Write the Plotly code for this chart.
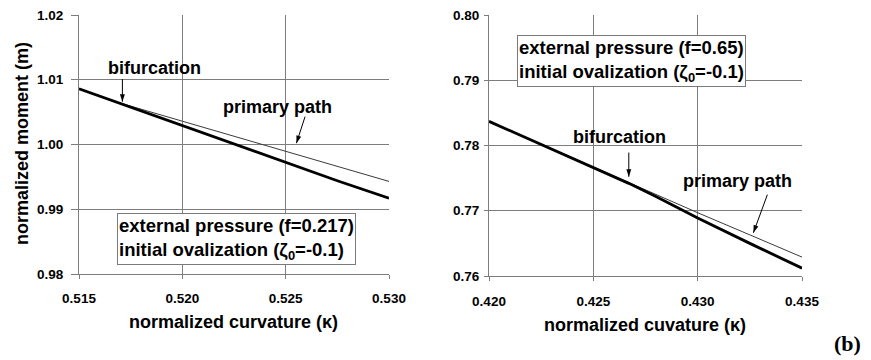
import plotly.graph_objects as go

# ---- data ----
# left panel: f = 0.217
left_kappa_post = [0.515, 0.5171, 0.520, 0.5225, 0.525, 0.5275, 0.530]
left_m_post = [1.0086, 1.0062, 1.0030, 1.0001, 0.9972, 0.9944, 0.9917]
left_kappa_primary = [0.515, 0.5171, 0.520, 0.5225, 0.525, 0.5275, 0.530]
left_m_primary = [1.0086, 1.0063, 1.0036, 1.0013, 0.9990, 0.9966, 0.9943]

# right panel: f = 0.65
right_kappa_post = [0.420, 0.4225, 0.425, 0.4267, 0.428, 0.430, 0.4325, 0.435]
right_m_post = [0.7837, 0.7802, 0.7766, 0.7742, 0.7722, 0.7689, 0.7650, 0.7612]
right_kappa_primary = [0.420, 0.4225, 0.425, 0.4267, 0.430, 0.4325, 0.435]
right_m_primary = [0.7837, 0.7802, 0.7766, 0.7742, 0.7697, 0.7663, 0.7629]

# arrow pointers (tail -> tip) in data coordinates, with head angle (deg, clockwise from up)
left_bif_arrow_x = [0.5171, 0.5171]
left_bif_arrow_y = [1.0101, 1.0066]
left_bif_angle = 180
left_prim_arrow_x = [0.52594, 0.52552]
left_prim_arrow_y = [1.00431, 1.00020]
left_prim_angle = 198
right_bif_arrow_x = [0.4267, 0.4267]
right_bif_arrow_y = [0.77892, 0.77520]
right_bif_angle = 180
right_prim_arrow_x = [0.43334, 0.43267]
right_prim_arrow_y = [0.77246, 0.76662]
right_prim_angle = 200

left_xticks = [0.515, 0.520, 0.525, 0.530]
left_yticks = [0.98, 0.99, 1.00, 1.01, 1.02]
right_xticks = [0.420, 0.425, 0.430, 0.435]
right_yticks = [0.76, 0.77, 0.78, 0.79, 0.80]

W, H = 871, 360
FONT = "Liberation Sans, Arial, sans-serif"
GRID = "#7d7d7d"
FRAME = "#c8c8c8"

fig = go.Figure()

def add_lines(xp, yp, xh, yh, xa, ya):
    fig.add_trace(go.Scatter(x=xp, y=yp, mode="lines", xaxis=xa, yaxis=ya,
                             line=dict(color="#3a3a3a", width=1), showlegend=False))
    fig.add_trace(go.Scatter(x=xh, y=yh, mode="lines", xaxis=xa, yaxis=ya,
                             line=dict(color="black", width=2.8), showlegend=False))

add_lines(left_kappa_primary, left_m_primary, left_kappa_post, left_m_post, "x", "y")
add_lines(right_kappa_primary, right_m_primary, right_kappa_post, right_m_post, "x2", "y2")

def add_arrow(xs, ys, angle, xa, ya):
    fig.add_trace(go.Scatter(x=xs, y=ys, mode="lines", xaxis=xa, yaxis=ya,
                             line=dict(color="black", width=1),
                             showlegend=False, hoverinfo="skip"))
    fig.add_trace(go.Scatter(x=xs[-1:], y=ys[-1:], mode="markers", xaxis=xa, yaxis=ya,
                             marker=dict(symbol="arrow", size=8, color="black",
                                         angle=angle, line=dict(width=0)),
                             showlegend=False, hoverinfo="skip"))

add_arrow(left_bif_arrow_x, left_bif_arrow_y, left_bif_angle, "x", "y")
add_arrow(left_prim_arrow_x, left_prim_arrow_y, left_prim_angle, "x", "y")
add_arrow(right_bif_arrow_x, right_bif_arrow_y, right_bif_angle, "x2", "y2")
add_arrow(right_prim_arrow_x, right_prim_arrow_y, right_prim_angle, "x2", "y2")

def px(xp):
    return xp / W

def py(yp):
    return 1 - yp / H

tickfont = dict(family=FONT, size=13.5, color="black")

axis_common = dict(showgrid=True, gridcolor=GRID, gridwidth=1, zeroline=False,
                   showline=True, linecolor=GRID, linewidth=1, ticks="outside",
                   tickcolor=GRID, tickfont=tickfont, automargin=False)

frame_common = dict(showgrid=False, zeroline=False, showline=True, linecolor=FRAME,
                    linewidth=1, ticks="", showticklabels=False, automargin=False)

def bold(vals, fmt):
    return ["<b>" + format(v, fmt) + "</b>" for v in vals]

LX = [px(79), px(389)]
LY = [py(274), py(15)]
RX = [px(489), px(802)]
RY = [py(276), py(15)]

fig.update_layout(
    width=W, height=H, margin=dict(l=0, r=0, t=0, b=0, autoexpand=False),
    paper_bgcolor="white", plot_bgcolor="white", showlegend=False,
    xaxis=dict(domain=LX, range=[0.515, 0.530], tickvals=left_xticks,
               ticktext=bold(left_xticks, ".3f"), anchor="y", ticklen=4,
               ticklabelstandoff=8, **axis_common),
    yaxis=dict(domain=LY, range=[0.98, 1.02], tickvals=left_yticks,
               ticktext=bold(left_yticks, ".2f"), anchor="x", ticklen=7,
               ticklabelstandoff=5, **axis_common),
    xaxis2=dict(domain=RX, range=[0.420, 0.435], tickvals=right_xticks,
                ticktext=bold(right_xticks, ".3f"), anchor="y2", ticklen=4,
                ticklabelstandoff=9, **axis_common),
    yaxis2=dict(domain=RY, range=[0.76, 0.80], tickvals=right_yticks,
                ticktext=bold(right_yticks, ".2f"), anchor="x2", ticklen=4,
                ticklabelstandoff=2, **axis_common),
    # light top / right frame edges
    xaxis3=dict(overlaying="x", side="top", anchor="y", range=[0.515, 0.530], **frame_common),
    yaxis3=dict(overlaying="y", side="right", anchor="x", range=[0.98, 1.02], **frame_common),
    xaxis4=dict(overlaying="x2", side="top", anchor="y2", range=[0.420, 0.435], **frame_common),
    yaxis4=dict(overlaying="y2", side="right", anchor="x2", range=[0.76, 0.80], **frame_common),
)

tf = dict(family=FONT, size=18, color="black", weight="bold")

def text(x, y, s, xanchor="center", font=tf, textangle=0, **kw):
    fig.add_annotation(x=px(x), y=py(y), xref="paper", yref="paper", text=s,
                       showarrow=False, xanchor=xanchor, yanchor="middle",
                       font=font, textangle=textangle, **kw)

box = dict(bordercolor="#7a7a7a", borderwidth=1, borderpad=1, bgcolor="white", align="left")
boxfont = dict(family=FONT, size=18.5, color="black", weight="bold")
text(117, 239, "external pressure (f=0.217)<br>initial ovalization (ζ<sub>0</sub>=-0.1)",
     xanchor="left", font=boxfont, **box)
text(517, 61, "external pressure (f=0.65)<br>initial ovalization (ζ<sub>0</sub>=-0.1)",
     xanchor="left", font=boxfont, **box)

text(154, 68, "bifurcation")
text(277, 107, "primary path")
text(619, 137, "bifurcation")
text(737, 181, "primary path")

# axis titles
text(233, 322, "normalized curvature (κ)")
text(645, 325, "normalized cuvature (κ)")
text(22, 144, "normalized moment (m)", textangle=-90)
text(847, 343, "(b)", font=dict(family="Liberation Serif, Times New Roman, serif",
                                  size=22, color="black", weight="bold"))

fig.write_html("out.html", config={"displayModeBar": False},
               post_script="document.body.style.margin='0';document.body.style.overflow='hidden';")
